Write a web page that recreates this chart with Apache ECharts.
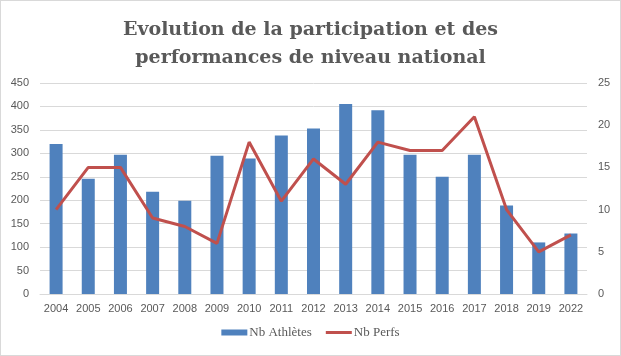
<!DOCTYPE html>
<html><head><meta charset="utf-8">
<script src="https://cdn.jsdelivr.net/npm/echarts@6/dist/echarts.min.js"></script>
<style>html,body{margin:0;padding:0;background:#fff}#c{width:621px;height:356px;box-sizing:border-box;border:1px solid #D9D9D9}</style>
</head><body><div id="c"></div>
<script>
const years = ['2004','2005','2006','2007','2008','2009','2010','2011','2012','2013','2014','2015','2016','2017','2018','2019','2022'];
const athletes = [320,246,297,218,199,295,289,338,353,405,392,297,250,297,189,110,129];
const perfs = [10,15,15,9,8,6,18,11,16,13,18,17,17,21,10,5,7];
const leftTicks = {min:0,max:450,interval:50};
const rightTicks = {min:0,max:25,interval:5};

const chart = echarts.init(document.getElementById('c'));
const lab = {color:'#595959',fontFamily:'Liberation Sans',fontSize:11};
chart.setOption({
  animation:false,
  title:{text:'Evolution de la participation et des\nperformances de niveau national',left:'center',top:10,
    textStyle:{fontFamily:'DejaVu Serif',fontWeight:'bold',fontSize:19,color:'#595959',lineHeight:28}},
  legend:{bottom:11,left:'center',itemGap:14,itemWidth:26,itemHeight:6,
    textStyle:{fontFamily:'Liberation Serif',fontSize:13,color:'#595959',padding:[0,0,0,-3]},
    data:[{name:'Nb Athlètes',icon:'rect'},{name:'Nb Perfs',icon:'path://M0,0H26V3H0Z'}]},
  grid:{left:39,right:33,top:82,bottom:61},
  xAxis:{type:'category',data:years,axisTick:{show:false},
    axisLine:{lineStyle:{color:'#D9D9D9'}},axisLabel:Object.assign({margin:9,interval:0},lab)},
  yAxis:[
    Object.assign({type:'value',splitLine:{lineStyle:{color:'#D9D9D9'}},axisLine:{show:false},axisTick:{show:false},axisLabel:Object.assign({margin:11},lab)},leftTicks),
    Object.assign({type:'value',splitLine:{show:false},axisLine:{show:false},axisTick:{show:false},axisLabel:Object.assign({margin:11},lab)},rightTicks)
  ],
  series:[
    {name:'Nb Athlètes',type:'bar',data:athletes,barWidth:13,itemStyle:{color:'#4F81BD'}},
    {name:'Nb Perfs',type:'line',yAxisIndex:1,data:perfs,symbol:'none',lineStyle:{color:'#C0504D',width:3},itemStyle:{color:'#C0504D'}}
  ]
});
</script></body></html>
